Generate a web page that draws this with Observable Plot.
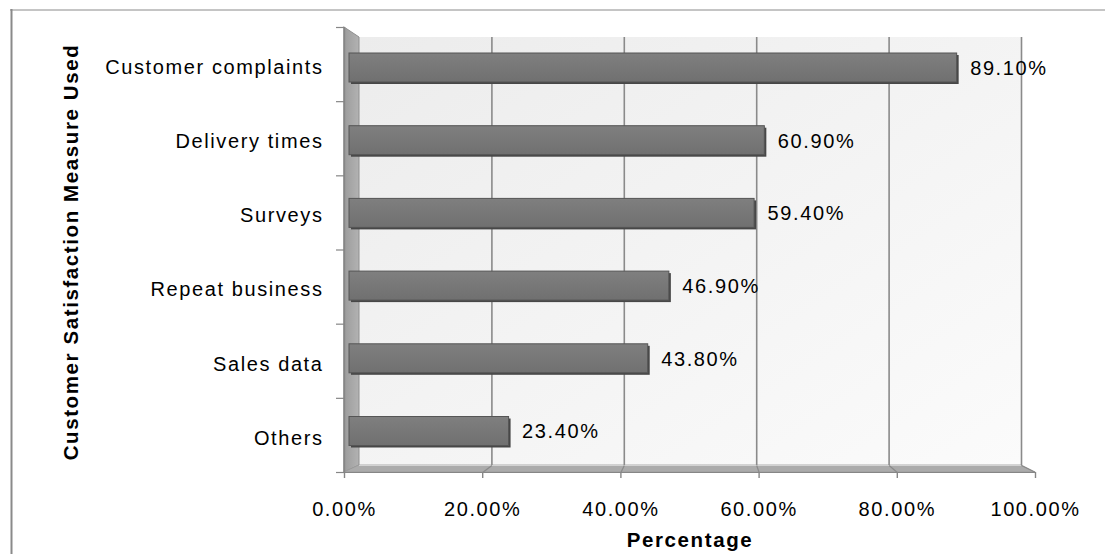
<!DOCTYPE html>
<html><head><meta charset="utf-8">
<script src="https://cdn.jsdelivr.net/npm/d3@7"></script>
<script src="https://cdn.jsdelivr.net/npm/@observablehq/plot@0.6"></script>
<style>body{margin:0;background:#fff} svg{display:block}</style>
</head><body><div id="chart"></div>
<script>
// ---- data ----
const categories = ["Customer complaints", "Delivery times", "Surveys", "Repeat business", "Sales data", "Others"];
const values = [89.1, 60.9, 59.4, 46.9, 43.8, 23.4];
const valueLabels = ["89.10%", "60.90%", "59.40%", "46.90%", "43.80%", "23.40%"];
const xTicks = [0, 20, 40, 60, 80, 100];
const xTickLabels = ["0.00%", "20.00%", "40.00%", "60.00%", "80.00%", "100.00%"];
const xTitle = "Percentage";
const yTitle = "Customer Satisfaction Measure Used";

// ---- layout (pixels) ----
const W = 1105, H = 554;
const front = {x0: 344, x1: 1035, y0: 27, y1: 472};
const back = {x0: 359, x1: 1021, y0: 37, y1: 465};
const barPlane = {x0: 349, x1: 1031, c0: 69, step: 72.7, top: 16, bottom: 13};
const X = d3.scaleLinear([0, 100], [front.x0, front.x1]);
const Y = d3.scaleLinear([0, categories.length], [front.y0, front.y1]);
const ix = px => X.invert(px), iy = py => Y.invert(py);
const n = categories.length;
const bx = v => ix(back.x0 + (back.x1 - back.x0) * v / 100);
const by = k => iy(back.y0 + (back.y1 - back.y0) * k / n);
const barX = v => ix(barPlane.x0 + (barPlane.x1 - barPlane.x0) * v / 100);
const barC = i => barPlane.c0 + barPlane.step * i;

const bars = categories.map((c, i) => ({
  c, v: values[i], label: valueLabels[i],
  x1: barX(0), x2: barX(values[i]),
  y1: iy(barC(i) - barPlane.top), y2: iy(barC(i) + barPlane.bottom),
  yc: iy(barC(i) - 1)
}));

const sideWall = [
  {x: ix(front.x0), y1: iy(front.y0), y2: iy(front.y1)},
  {x: ix(back.x0), y1: iy(back.y0), y2: iy(back.y1)}
];
const floor = [
  {x: ix(front.x0), y1: iy(front.y1), y2: iy(front.y1)},
  {x: ix(back.x0), y1: iy(back.y1), y2: iy(front.y1)},
  {x: ix(back.x1), y1: iy(back.y1), y2: iy(front.y1)},
  {x: ix(front.x1), y1: iy(front.y1), y2: iy(front.y1)}
];
const wall = [{x1: bx(0), x2: bx(100), y1: by(0), y2: by(n)}];
const gridColor = "#8a8a8a";
const font = "'Liberation Sans', Arial, sans-serif";

const plot = Plot.plot({
  width: W, height: H,
  marginLeft: front.x0, marginRight: W - front.x1,
  marginTop: front.y0, marginBottom: H - front.y1,
  x: {type: "linear", domain: [0, 100], range: [front.x0, front.x1], axis: null},
  y: {type: "linear", domain: [0, n], range: [front.y0, front.y1], axis: null},
  style: {fontFamily: font, fontSize: "20px", letterSpacing: "1.6px", color: "#000", background: "#fff"},
  marks: [
    // outer chart frame
    Plot.ruleY([iy(9.5)], {x1: () => ix(10), x2: () => ix(W + 5), stroke: "#8a8a8a", strokeWidth: 1}),
    Plot.ruleX([ix(11)], {y1: () => iy(9), y2: () => iy(H + 5), stroke: "#8a8a8a", strokeWidth: 2}),
    // back wall
    Plot.rect(wall, {x1: "x1", x2: "x2", y1: "y1", y2: "y2", fill: "url(#wallGrad)"}),
    // side wall
    Plot.areaY(sideWall, {x: "x", y1: "y1", y2: "y2", fill: "url(#sideGrad)", stroke: "#8f8f8f", strokeWidth: 1}),
    // floor
    Plot.areaY(floor, {x: "x", y1: "y1", y2: "y2", fill: "#ababab", stroke: "#9a9a9a", strokeWidth: 0.8}),
    Plot.ruleY([by(n)], {x1: () => bx(0), x2: () => bx(100), stroke: "#d2d2d2", strokeWidth: 1.2}),
    // gridlines on back wall and floor
    Plot.ruleX(xTicks.slice(1), {x: d => bx(d), y1: () => by(0), y2: () => by(n), stroke: gridColor, strokeWidth: 1.6}),
    Plot.link(xTicks.slice(1), {x1: d => bx(d), y1: () => by(n), x2: d => d, y2: () => n, stroke: gridColor, strokeWidth: 1.2}),
    // axes lines and ticks
    Plot.ruleY([n], {x1: () => 0, x2: () => 100, stroke: "#868686", strokeWidth: 1.2}),
    Plot.ruleX(xTicks, {y1: () => n, y2: () => iy(front.y1 + 6), stroke: "#868686", strokeWidth: 1.4}),
    Plot.ruleX([0], {y1: () => 0, y2: () => n, stroke: "#868686", strokeWidth: 1.4}),
    Plot.ruleY(d3.range(n + 1), {x1: () => ix(front.x0 - 8), x2: () => 0, stroke: "#868686", strokeWidth: 1.2}),
    // bars: dark 3D edge then front face
    Plot.rect(bars, {x1: "x1", x2: "x2", y1: "y1", y2: "y2", dx: 2, dy: 2, fill: "#474747"}),
    Plot.rect(bars, {x1: "x1", x2: "x2", y1: "y1", y2: "y2", fill: "url(#barGrad)", stroke: "#555", strokeWidth: 1}),
    // value labels
    Plot.text(bars, {x: "x2", y: "yc", dx: 13, text: "label", textAnchor: "start", lineAnchor: "middle", fill: "#000"}),
    // category labels
    Plot.text(categories, {x: () => ix(323), y: (d, i) => i + 0.5, dy: 3, text: d => d, textAnchor: "end", lineAnchor: "middle", fill: "#000"}),
    // x tick labels
    Plot.text(xTicks, {x: d => d, y: () => iy(509), text: (d, i) => xTickLabels[i], textAnchor: "middle", lineAnchor: "middle", fill: "#000"}),
    // axis titles
    Plot.text([xTitle], {x: () => 50, y: () => iy(540), text: d => d, fontWeight: "bold", fontSize: 20.5, lineAnchor: "middle", fill: "#000"}),
    Plot.text([yTitle], {x: () => ix(71), y: () => iy(251.5), text: d => d, rotate: -90, fontWeight: "bold", fontSize: 20.5, lineAnchor: "middle", fill: "#000"})
  ]
});

const svg = d3.select(plot);
const defs = svg.insert("defs", ":first-child");
const wg = defs.append("linearGradient").attr("id", "wallGrad").attr("x1", 0).attr("y1", 0).attr("x2", 1).attr("y2", 1);
wg.append("stop").attr("offset", 0).attr("stop-color", "#ececec");
wg.append("stop").attr("offset", 1).attr("stop-color", "#fbfbfb");
const sg = defs.append("linearGradient").attr("id", "sideGrad").attr("x1", 0).attr("y1", 0).attr("x2", 1).attr("y2", 0);
sg.append("stop").attr("offset", 0).attr("stop-color", "#9c9c9c");
sg.append("stop").attr("offset", 1).attr("stop-color", "#b2b2b2");
const bg = defs.append("linearGradient").attr("id", "barGrad").attr("x1", 0).attr("y1", 0).attr("x2", 0).attr("y2", 1);
bg.append("stop").attr("offset", 0).attr("stop-color", "#7f7f7f");
bg.append("stop").attr("offset", 1).attr("stop-color", "#707070");
document.getElementById("chart").appendChild(plot);
</script>
</body></html>
